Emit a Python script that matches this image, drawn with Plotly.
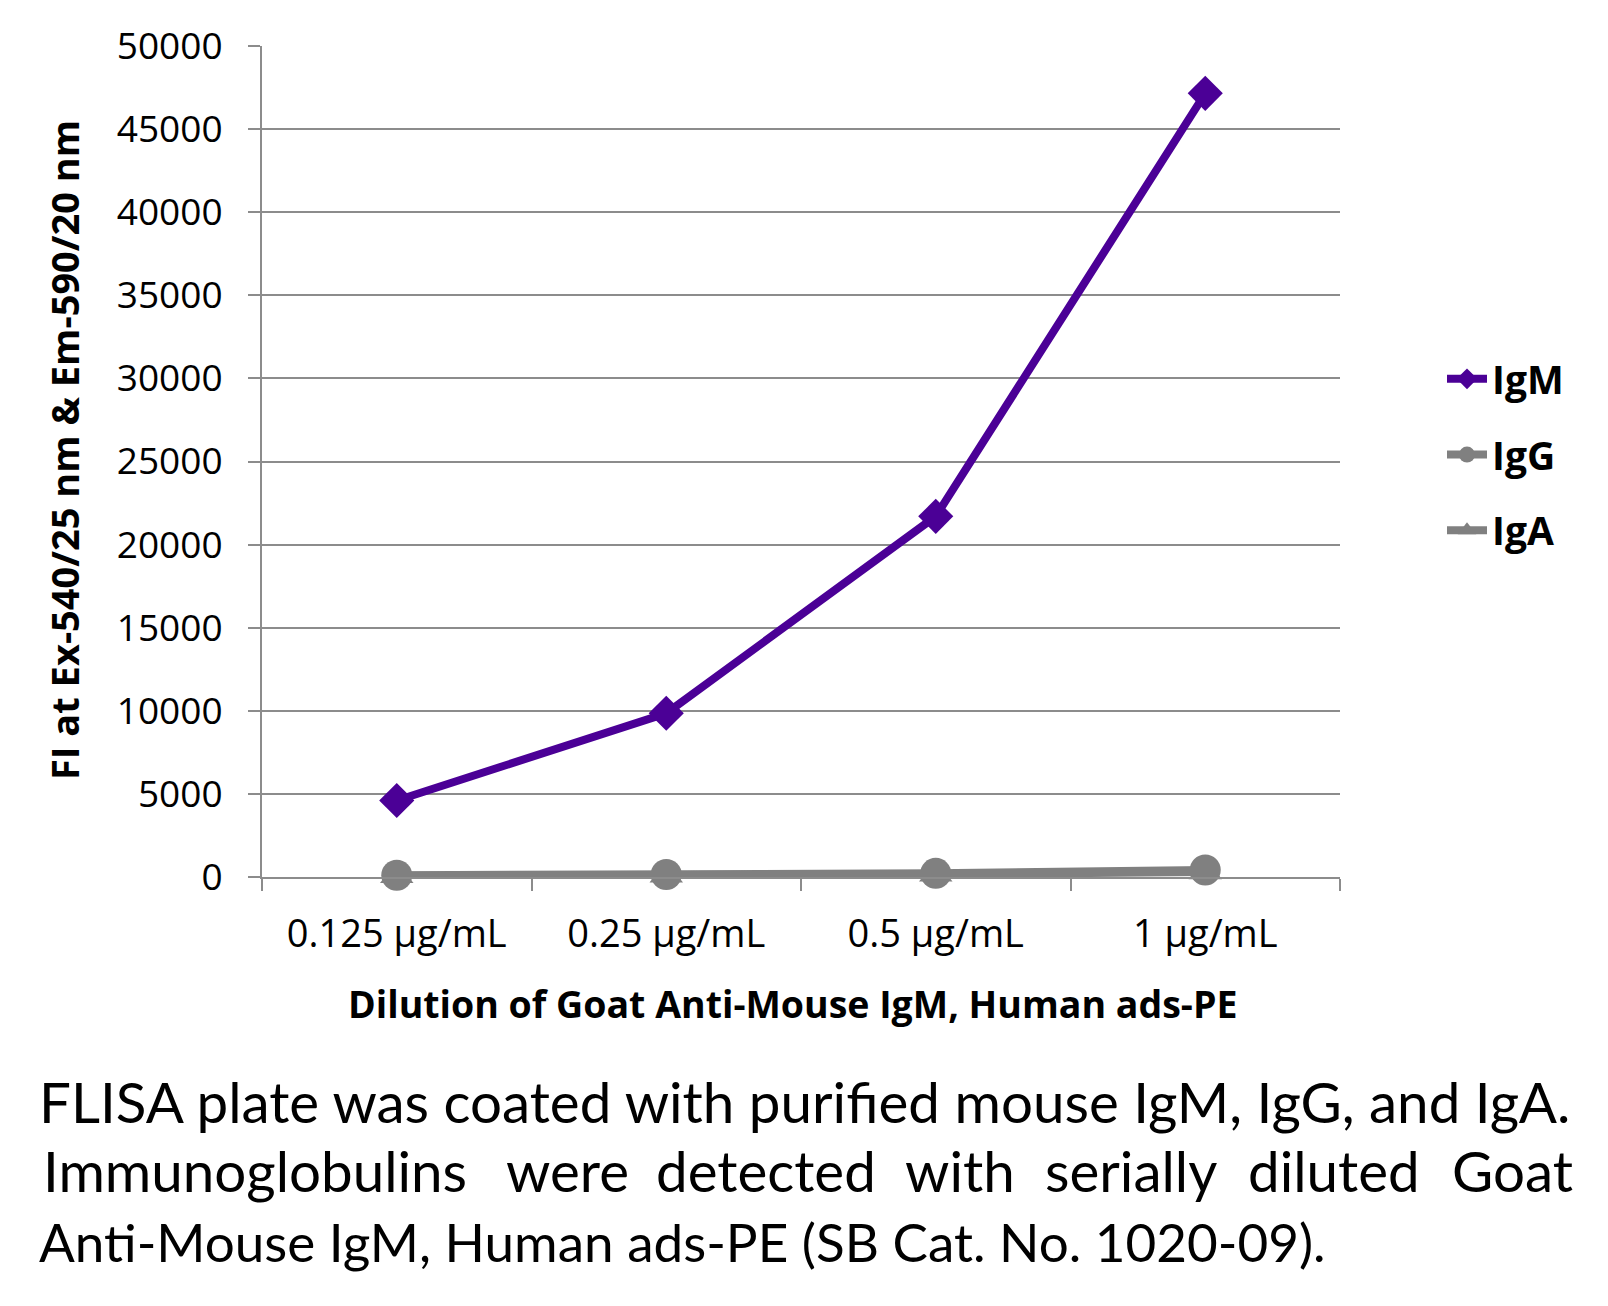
import plotly.graph_objects as go

# ---- data ----
categories = ["0.125 µg/mL", "0.25 µg/mL", "0.5 µg/mL", "1 µg/mL"]
igm = [4600, 9850, 21700, 47150]
igg = [110, 150, 220, 420]
iga = [80, 110, 160, 300]
y_ticks = [0, 5000, 10000, 15000, 20000, 25000, 30000, 35000, 40000, 45000, 50000]

y_title = "FI at Ex-540/25 nm &amp; Em-590/20 nm"
x_title = "Dilution of Goat Anti-Mouse IgM, Human ads-PE"
caption_line1 = "FLISA plate was coated with purified mouse IgM, IgG, and IgA."
caption_line2_words = ["Immunoglobulins", "were", "detected", "with", "serially", "diluted", "Goat"]
caption_line3 = "Anti-Mouse IgM, Human ads-PE (SB Cat. No. 1020-09)."

PURPLE = "#4B0096"
GRAY = "#808080"
AXGRAY = "#8c8c8c"

O = 8  # default page body margin
W, H = 1608 - O, 1306 - O
L, R, T, B = 262 - O, 1340 - O, 46 - O, 877 - O


def px(x):
    return (x - O - L) / (R - L)


def py(y):
    return (B - (y - O)) / (B - T)


fig = go.Figure()
fig.add_trace(go.Scatter(
    x=categories, y=igm, name="IgM", mode="lines+markers", legendgroup="a",
    line=dict(color=PURPLE, width=8),
    marker=dict(symbol="diamond", size=27, color=PURPLE),
    cliponaxis=False))
fig.add_trace(go.Scatter(
    x=categories, y=igg, name="IgG", mode="lines+markers", legendgroup="b",
    line=dict(color=GRAY, width=8),
    marker=dict(symbol="circle", size=31, color=GRAY),
    cliponaxis=False))
fig.add_trace(go.Scatter(
    x=categories, y=iga, name="IgA", mode="lines+markers", legendgroup="c",
    line=dict(color=GRAY, width=8),
    marker=dict(symbol="triangle-up", size=29, color=GRAY),
    cliponaxis=False))

annotations = []
cap_font = dict(family="Lato", size=56.5, color="black")
annotations.append(dict(text=caption_line1, x=px(37), y=py(1101), xref="paper", yref="paper",
                        xanchor="left", yanchor="middle", showarrow=False, font=cap_font))
word_centers = [255, 567, 766, 960, 1131, 1334, 1512]
for w, c in zip(caption_line2_words, word_centers):
    annotations.append(dict(text=w, x=px(c), y=py(1170), xref="paper", yref="paper",
                            xanchor="center", yanchor="middle", showarrow=False, font=cap_font))
annotations.append(dict(text=caption_line3, x=px(37), y=py(1241), xref="paper", yref="paper",
                        xanchor="left", yanchor="middle", showarrow=False,
                        font=dict(family="Lato", size=53, color="black")))
# axis titles placed as text, matching the original's slightly off-centre positions
annotations.append(dict(text=y_title, x=px(64), y=py(450), xref="paper", yref="paper",
                        xanchor="center", yanchor="middle", showarrow=False, textangle=-90,
                        font=dict(family="Open Sans", size=38, color="black", weight="bold")))
annotations.append(dict(text=x_title, x=px(792), y=py(1003), xref="paper", yref="paper",
                        xanchor="center", yanchor="middle", showarrow=False,
                        font=dict(family="Open Sans", size=37.5, color="black", weight="bold")))

fig.update_layout(
    width=W, height=H,
    margin=dict(l=L, r=W - R, t=T, b=H - B, autoexpand=False),
    paper_bgcolor="white", plot_bgcolor="white",
    font=dict(family="Open Sans", color="black"),
    showlegend=True,
    legend=dict(x=px(1442), y=py(347), xanchor="left", yanchor="top",
                font=dict(family="Open Sans", size=39, color="black", weight="bold"),
                tracegroupgap=22, traceorder="grouped", itemwidth=40,
                bgcolor="rgba(0,0,0,0)"),
    xaxis=dict(
        type="category", range=[-0.5, 3.5], showgrid=False, showline=True,
        linecolor=AXGRAY, linewidth=2,
        ticks="outside", tickson="boundaries", ticklen=12, tickwidth=2, tickcolor=AXGRAY,
        tickfont=dict(family="Open Sans", size=38, color="black"),
        ticklabelstandoff=22, zeroline=False),
    yaxis=dict(
        range=[0, 50000], tickvals=y_ticks, tickformat="d", showgrid=True,
        gridcolor=AXGRAY, gridwidth=2,
        showline=True, linecolor=AXGRAY, linewidth=2, zeroline=False,
        ticks="outside", ticklen=12, tickwidth=2, tickcolor=AXGRAY,
        tickfont=dict(family="Open Sans", size=37, color="black"),
        ticklabelstandoff=18),
    annotations=annotations,
)

fig.write_html("out.html")
